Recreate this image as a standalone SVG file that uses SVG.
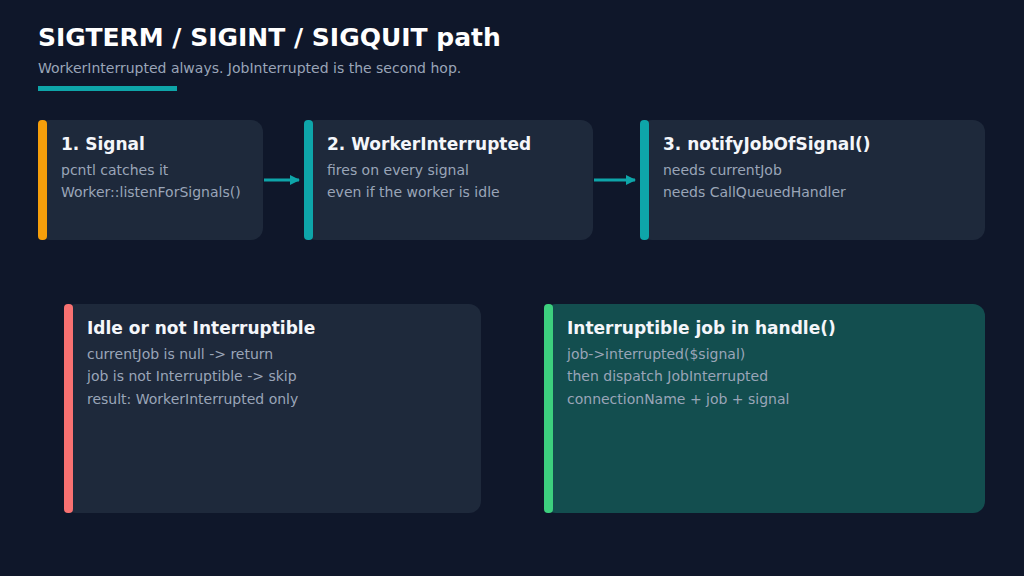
<svg xmlns="http://www.w3.org/2000/svg" width="1024" height="576" viewBox="0 0 1024 576">
<defs>
<style>
.t{font-family:"DejaVu Sans",sans-serif;font-weight:bold;font-size:17px;fill:#f4f6fa}
.s{font-family:"DejaVu Sans",sans-serif;font-size:14px;fill:#9aa5b8}
.c{fill:#1e293b}
.g{fill:#134e4f}
.l{stroke:#0ea5a9;stroke-width:3;fill:none}
</style>
<marker id="a" markerWidth="10" markerHeight="10" refX="9" refY="5" orient="auto" markerUnits="userSpaceOnUse"><path d="M0,0L10,5L0,10z" fill="#0ea5a9"/></marker>
</defs>
<rect width="1024" height="576" fill="#0f172a"/>
<text x="38" y="46" font-family="DejaVu Sans,sans-serif" font-weight="bold" font-size="25" fill="#ffffff">SIGTERM / SIGINT / SIGQUIT path</text>
<text x="38" y="73" class="s">WorkerInterrupted always. JobInterrupted is the second hop.</text>
<rect x="38" y="86" width="139" height="5" fill="#0ea5a9"/>
<g id="n1"><rect x="38" y="120" width="225" height="120" rx="12" class="c"/><rect x="38" y="120" width="9" height="120" rx="4" fill="#f59e0b"/><text x="61" y="150" class="t">1. Signal</text><text x="61" y="175" class="s">pcntl catches it</text><text x="61" y="197" class="s">Worker::listenForSignals()</text></g>
<g id="n2"><rect x="304" y="120" width="289" height="120" rx="12" class="c"/><rect x="304" y="120" width="9" height="120" rx="4" fill="#0ea5a9"/><text x="327" y="150" class="t">2. WorkerInterrupted</text><text x="327" y="175" class="s">fires on every signal</text><text x="327" y="197" class="s">even if the worker is idle</text></g>
<g id="n3"><rect x="640" y="120" width="345" height="120" rx="12" class="c"/><rect x="640" y="120" width="9" height="120" rx="4" fill="#0ea5a9"/><text x="663" y="150" class="t">3. notifyJobOfSignal()</text><text x="663" y="175" class="s">needs currentJob</text><text x="663" y="197" class="s">needs CallQueuedHandler</text></g>
<g id="n4"><rect x="64" y="304" width="417" height="209" rx="12" class="c"/><rect x="64" y="304" width="9" height="209" rx="4" fill="#f87171"/><text x="87" y="334" class="t">Idle or not Interruptible</text><text x="87" y="359" class="s">currentJob is null  -&gt;  return</text><text x="87" y="381" class="s">job is not Interruptible  -&gt;  skip</text><text x="87" y="404" class="s">result: WorkerInterrupted only</text></g>
<g id="n5"><rect x="544" y="304" width="441" height="209" rx="12" class="g"/><rect x="544" y="304" width="9" height="209" rx="4" fill="#3dd07e"/><text x="567" y="334" class="t">Interruptible job in handle()</text><text x="567" y="359" class="s">job-&gt;interrupted($signal)</text><text x="567" y="381" class="s">then dispatch JobInterrupted</text><text x="567" y="404" class="s">connectionName + job + signal</text></g>
<g id="edges"><path d="M264,180H299" class="l" marker-end="url(#a)"/><path d="M594,180H635" class="l" marker-end="url(#a)"/></g>
</svg>
